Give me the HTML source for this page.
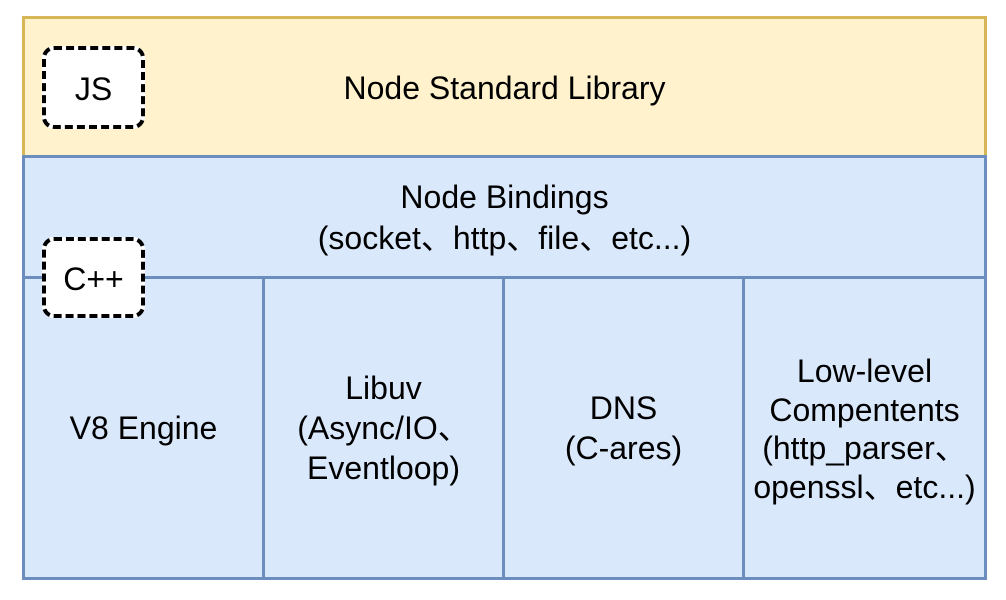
<!DOCTYPE html>
<html><head><meta charset="utf-8"><style>
body{margin:0;width:1006px;height:600px;background:#fff;position:relative;font-family:"Liberation Sans","Noto Sans CJK SC",sans-serif;overflow:hidden}
.a{position:absolute;box-sizing:border-box}
.t{position:absolute;display:flex;align-items:center;justify-content:center;text-align:center;font-size:32px;line-height:40px;color:#000;white-space:nowrap}
.blue{background:#dae8fc;border:3px solid #6c8ebf}
.dash{background:#fff;border:4px dashed #000;border-radius:12px}
</style></head><body>
<div class="a" style="left:22px;top:16px;width:965px;height:142px;background:#fff2cc;border:3px solid #d6b656"></div>
<div class="t" style="left:22px;top:17px;width:965px;height:142px">Node Standard Library</div>
<div class="a blue" style="left:22px;top:155px;width:965px;height:124px"></div>
<div class="t" style="left:22px;top:156px;width:965px;height:124px;line-height:41px">Node Bindings<br>(socket、http、file、etc...)</div>
<div class="a blue" style="left:22px;top:276px;width:243px;height:304px"></div>
<div class="a blue" style="left:262px;top:276px;width:243px;height:304px"></div>
<div class="a blue" style="left:502px;top:276px;width:243px;height:304px"></div>
<div class="a blue" style="left:742px;top:276px;width:245px;height:304px"></div>
<div class="t" style="left:22px;top:276px;width:243px;height:304px">V8 Engine</div>
<div class="t" style="left:262px;top:276px;width:243px;height:304px">Libuv<br>(Async/IO、<br>Eventloop)</div>
<div class="t" style="left:502px;top:276px;width:243px;height:304px">DNS<br>(C-ares)</div>
<div class="t" style="left:742px;top:277px;width:245px;height:304px;line-height:38.5px">Low-level<br>Compentents<br>(http_parser、<br>openssl、etc...)</div>
<div class="a dash" style="left:42px;top:46px;width:103px;height:83px"></div>
<div class="t" style="left:42px;top:47px;width:103px;height:83px">JS</div>
<div class="a dash" style="left:42px;top:237px;width:103px;height:81px"></div>
<div class="t" style="left:42px;top:238px;width:103px;height:81px">C++</div>
</body></html>
